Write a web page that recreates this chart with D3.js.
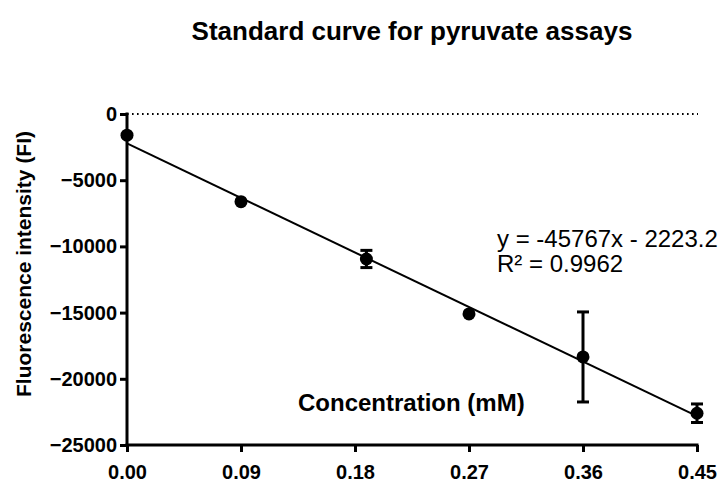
<!DOCTYPE html>
<html>
<head>
<meta charset="utf-8">
<script src="https://cdn.jsdelivr.net/npm/d3@7"></script>
<style>
  body { margin: 0; background: #fff; }
  svg { display: block; font-family: "Liberation Sans", Arial, Helvetica, sans-serif; }
</style>
</head>
<body>
<svg id="chart" width="720" height="482"></svg>
<script>
// Pyruvate standard: concentration (mM) vs fluorescence intensity, mean ± error
const concentrations = [0.00, 0.09, 0.189, 0.27, 0.36, 0.45];
const fluorescence   = [-1600, -6620, -10950, -15100, -18350, -22600];
const errors         = [0, 0, 650, 0, 3400, 700];

const xTicks = [0.00, 0.09, 0.18, 0.27, 0.36, 0.45];
const yTicks = [0, -5000, -10000, -15000, -20000, -25000];

// Linear fit reported on the chart
const fitSlope = -45767;
const fitIntercept = -2223.2;
const fitR2 = 0.9962;

const svg = d3.select("#chart");

const x = d3.scaleLinear().domain([0, 0.45]).range([127, 697]);
const y = d3.scaleLinear().domain([-25000, 0]).range([445, 114]);

// Title
svg.append("text")
  .attr("x", 412).attr("y", 40)
  .attr("text-anchor", "middle")
  .attr("font-size", 26).attr("font-weight", "bold")
  .text("Standard curve for pyruvate assays");

// Zero reference line (dotted)
svg.append("line")
  .attr("x1", x(0)).attr("x2", 698)
  .attr("y1", y(0)).attr("y2", y(0))
  .attr("stroke", "#000").attr("stroke-width", 2)
  .attr("stroke-dasharray", "1.6,3.4");

// Axes
const yAxis = svg.append("g")
  .attr("transform", `translate(${x(0)},0)`)
  .call(d3.axisLeft(y).tickValues(yTicks).tickFormat(d3.format("d")).tickSize(7).tickPadding(3));
const xAxis = svg.append("g")
  .attr("transform", `translate(0,${y(-25000)})`)
  .call(d3.axisBottom(x).tickValues(xTicks).tickFormat(d3.format(".2f")).tickSize(7).tickPadding(13));

[yAxis, xAxis].forEach(g => {
  g.select(".domain").attr("stroke", "#000").attr("stroke-width", 3).attr("stroke-linecap", "square");
  g.selectAll(".tick line").attr("stroke", "#000").attr("stroke-width", 3);
  g.selectAll(".tick text")
    .attr("fill", "#000")
    .attr("font-size", 20).attr("font-weight", "bold")
    .attr("font-family", "'Liberation Sans', Arial, sans-serif");
});
// Plain axis lines without the outer tick stubs
yAxis.select(".domain").attr("d", `M0,${y(0)}V${y(-25000)}`);
xAxis.select(".domain").attr("d", `M${x(0)},0H${x(0.45)}`);

// Regression line
svg.append("line")
  .attr("x1", x(0)).attr("y1", y(fitIntercept))
  .attr("x2", x(0.45)).attr("y2", y(fitSlope * 0.45 + fitIntercept))
  .attr("stroke", "#000").attr("stroke-width", 2);

// Error bars
const data = concentrations.map((c, i) => ({ c, v: fluorescence[i], e: errors[i] }));
const bars = svg.append("g").selectAll("g")
  .data(data.filter(d => d.e > 0)).join("g")
  .attr("stroke", "#000").attr("stroke-width", 3);
bars.append("line")
  .attr("x1", d => x(d.c)).attr("x2", d => x(d.c))
  .attr("y1", d => y(d.v + d.e)).attr("y2", d => y(d.v - d.e));
bars.append("line")
  .attr("x1", d => x(d.c) - 6).attr("x2", d => x(d.c) + 6)
  .attr("y1", d => y(d.v + d.e)).attr("y2", d => y(d.v + d.e));
bars.append("line")
  .attr("x1", d => x(d.c) - 6).attr("x2", d => x(d.c) + 6)
  .attr("y1", d => y(d.v - d.e)).attr("y2", d => y(d.v - d.e));

// Points
svg.append("g").selectAll("circle")
  .data(data).join("circle")
  .attr("cx", d => x(d.c)).attr("cy", d => y(d.v))
  .attr("r", 6.5).attr("fill", "#000");

// Axis titles
svg.append("text")
  .attr("transform", "translate(31,264) rotate(-90)")
  .attr("text-anchor", "middle")
  .attr("font-size", 21).attr("font-weight", "bold")
  .text("Fluorescence intensity (FI)");

svg.append("text")
  .attr("x", 298).attr("y", 411)
  .attr("font-size", 24).attr("font-weight", "bold")
  .text("Concentration (mM)");

// Fit equation
const eq = svg.append("text").attr("font-size", 24).attr("fill", "#000");
eq.append("tspan").attr("x", 497).attr("y", 247)
  .text(`y = ${fitSlope}x - ${Math.abs(fitIntercept)}`);
eq.append("tspan").attr("x", 497).attr("y", 272)
  .text(`R\u00B2 = ${fitR2}`);
</script>
</body>
</html>
